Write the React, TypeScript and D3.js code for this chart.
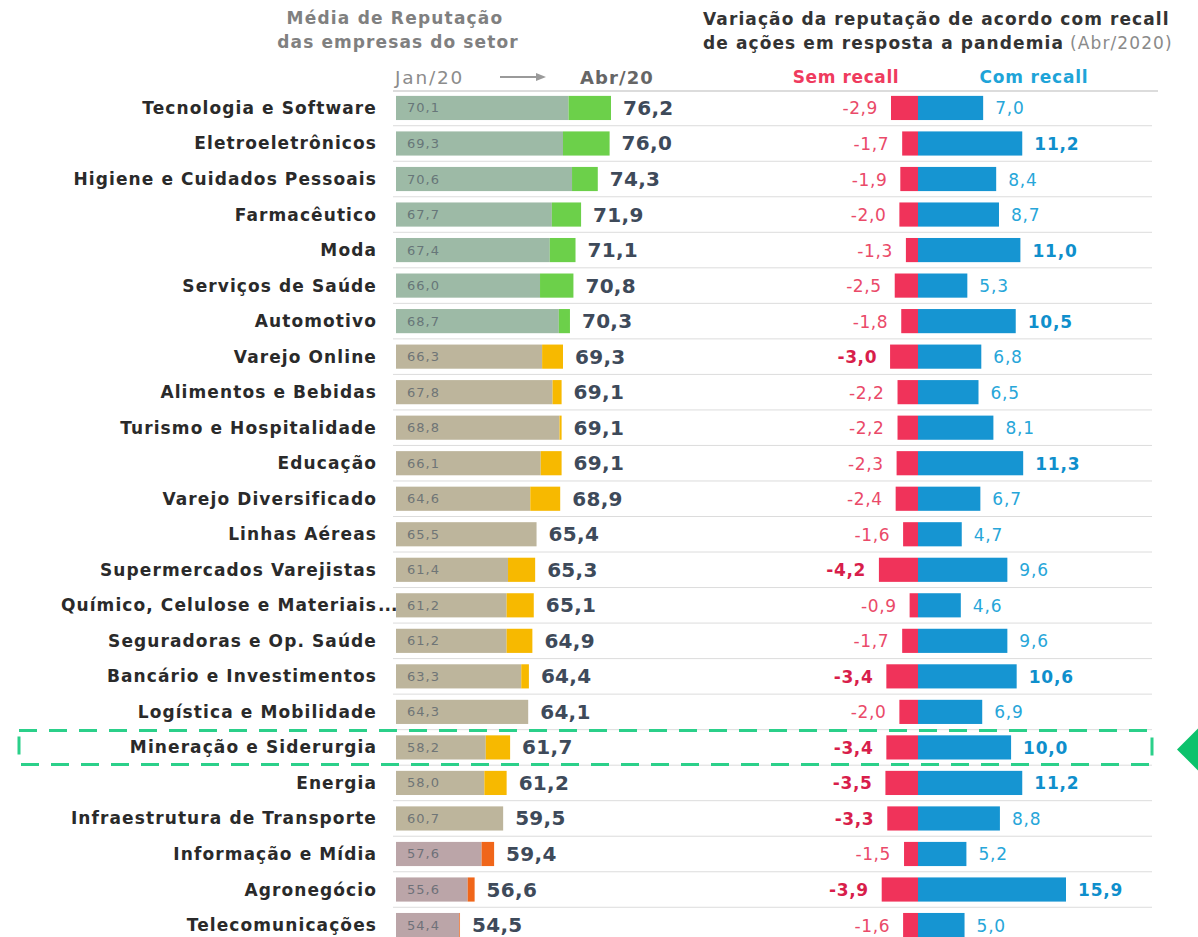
import React from "react";
import * as d3 from "d3";

const categories = [
  "Tecnologia e Software", "Eletroeletrônicos", "Higiene e Cuidados Pessoais", "Farmacêutico",
  "Moda", "Serviços de Saúde", "Automotivo", "Varejo Online", "Alimentos e Bebidas",
  "Turismo e Hospitalidade", "Educação", "Varejo Diversificado", "Linhas Aéreas",
  "Supermercados Varejistas", "Químico, Celulose e Materiais...", "Seguradoras e Op. Saúde",
  "Bancário e Investimentos", "Logística e Mobilidade", "Mineração e Siderurgia", "Energia",
  "Infraestrutura de Transporte", "Informação e Mídia", "Agronegócio", "Telecomunicações",
];
const jan20 = [70.1, 69.3, 70.6, 67.7, 67.4, 66.0, 68.7, 66.3, 67.8, 68.8, 66.1, 64.6, 65.5, 61.4, 61.2, 61.2, 63.3, 64.3, 58.2, 58.0, 60.7, 57.6, 55.6, 54.4];
const abr20 = [76.2, 76.0, 74.3, 71.9, 71.1, 70.8, 70.3, 69.3, 69.1, 69.1, 69.1, 68.9, 65.4, 65.3, 65.1, 64.9, 64.4, 64.1, 61.7, 61.2, 59.5, 59.4, 56.6, 54.5];
const semRecall = [-2.9, -1.7, -1.9, -2.0, -1.3, -2.5, -1.8, -3.0, -2.2, -2.2, -2.3, -2.4, -1.6, -4.2, -0.9, -1.7, -3.4, -2.0, -3.4, -3.5, -3.3, -1.5, -3.9, -1.6];
const comRecall = [7.0, 11.2, 8.4, 8.7, 11.0, 5.3, 10.5, 6.8, 6.5, 8.1, 11.3, 6.7, 4.7, 9.6, 4.6, 9.6, 10.6, 6.9, 10.0, 11.2, 8.8, 5.2, 15.9, 5.0];
const tiers = ["alta", "alta", "alta", "alta", "alta", "alta", "alta", "media", "media", "media", "media", "media", "media", "media", "media", "media", "media", "media", "media", "media", "media", "baixa", "baixa", "baixa"];
const highlighted = "Mineração e Siderurgia";

const tierBase: Record<string, string> = { alta: "#9dbaa6", media: "#bdb59c", baixa: "#bba5a8" };
const tierInc: Record<string, string> = { alta: "#6cd04a", media: "#f7b900", baixa: "#f0661a" };

const FONT = "'DejaVu Sans', sans-serif";
const ptBR = d3.formatLocale({ decimal: ",", thousands: ".", grouping: [3], currency: ["", ""], minus: "-" });
const fmt = ptBR.format(".1f");

export default function App() {
  const W = 1198, H = 937;
  const y = d3.scaleBand<string>().domain(categories).range([90.2, 942.8]).paddingInner(0.32).paddingOuter(0.16);
  const xL = d3.scaleLinear().domain([45.3, 76.2]).range([396, 611]);
  const xR = d3.scaleLinear().domain([0, 15.9]).range([918, 1066]);
  const bh = y.bandwidth();
  const step = y.step();
  const hy = y(highlighted)! + bh / 2;

  return (
    <svg width={W} height={H} style={{ position: "absolute", left: 0, top: 0, display: "block", background: "#fff" }} fontFamily={FONT}>
      {/* headers left */}
      <text x={395} y={24} textAnchor="middle" fontSize={17} fontWeight={700} fill="#808080" letterSpacing={1.2}>Média de Reputação</text>
      <text x={398} y={48} textAnchor="middle" fontSize={17} fontWeight={700} fill="#808080" letterSpacing={1.1}>das empresas do setor</text>
      <text x={395} y={84} fontSize={18.5} fill="#8c8c8c" letterSpacing={1.8}>Jan/20</text>
      <line x1={500} x2={538} y1={77} y2={77} stroke="#9a9a9a" strokeWidth={2} />
      <path d="M536,73 L546,77 L536,81 Z" fill="#9a9a9a" />
      <text x={580} y={84} fontSize={18} fontWeight={700} fill="#666" letterSpacing={1.1}>Abr/20</text>
      {/* headers right */}
      <text x={703} y={25} fontSize={17} fontWeight={700} fill="#333" letterSpacing={1.1}>Variação da reputação de acordo com recall</text>
      <text x={703} y={49} fontSize={17} fontWeight={700} fill="#333" letterSpacing={1.1}>de ações em resposta a pandemia
        <tspan fontWeight={400} fill="#8a8a8a" dx={6}>(Abr/2020)</tspan>
      </text>
      <text x={846} y={83} textAnchor="middle" fontSize={17} fontWeight={700} fill="#ef3b5e" letterSpacing={0.6}>Sem recall</text>
      <text x={1034} y={83} textAnchor="middle" fontSize={17} fontWeight={700} fill="#1ea4d8" letterSpacing={0.8}>Com recall</text>
      <line x1={393} x2={1158} y1={91} y2={91} stroke="#d0d0d0" strokeWidth={1.5} />

      {categories.map((c, i) => {
        const top = y(c)!;
        const cy = top + bh / 2;
        const lineY = top + bh + (step - bh) / 2;
        const tier = tiers[i];
        const j = jan20[i], a = abr20[i];
        const endX = xL(Math.max(j, a));
        const label = c.endsWith("...") ? c.slice(0, -3) : c;
        const s = semRecall[i], cr = comRecall[i];
        const sBold = s <= -3.0;
        const cBold = cr >= 10.0;
        return (
          <g key={c}>
            {i < categories.length - 1 && (
              <line x1={393} x2={1152} y1={lineY} y2={lineY} stroke="#dcdcdc" strokeWidth={1} />
            )}
            <text x={377} y={cy + 6} textAnchor="end" fontSize={17} fontWeight={700} fill="#2a2a2a" letterSpacing={1.1}>{label}</text>
            {c.endsWith("...") && (
              <text x={378} y={cy + 6} fontSize={17} fontWeight={700} fill="#2a2a2a">...</text>
            )}
            <rect x={xL(45.3)} y={top} width={xL(j) - xL(45.3)} height={bh} fill={tierBase[tier]} />
            {a > j && <rect x={xL(j)} y={top} width={xL(a) - xL(j)} height={bh} fill={tierInc[tier]} />}
            <text x={407} y={cy + 4.5} fontSize={13} fill="#55606a" opacity={0.75} letterSpacing={1}>{fmt(j)}</text>
            <text x={endX + 12} y={cy + 7} fontSize={20} fontWeight={700} fill="#3e4a5a" letterSpacing={0.3}>{fmt(a)}</text>
            <rect x={xR(s)} y={top} width={xR(0) - xR(s)} height={bh} fill="#f0335a" />
            <rect x={xR(0)} y={top} width={xR(cr) - xR(0)} height={bh} fill="#1695d2" />
            <text x={xR(s) - 13} y={cy + 6.5} textAnchor="end" fontSize={17} fontWeight={sBold ? 700 : 400} fill={sBold ? "#d81e4b" : "#ea4a69"} letterSpacing={0.6}>{fmt(s)}</text>
            <text x={xR(cr) + 12} y={cy + 6.5} fontSize={17} fontWeight={cBold ? 700 : 400} fill={cBold ? "#0f8fcc" : "#27a6d9"} letterSpacing={0.8}>{fmt(cr)}</text>
          </g>
        );
      })}

      {/* highlight */}
      <rect x={19} y={hy - 17} width={1133} height={34} fill="none" stroke="#2bd08a" strokeWidth={3} strokeDasharray="18 12" />
      <path d={`M1177,${hy + 2} L1200,${hy - 21} L1223,${hy + 2} L1200,${hy + 25} Z`} fill="#0cc26c" />
    </svg>
  );
}
